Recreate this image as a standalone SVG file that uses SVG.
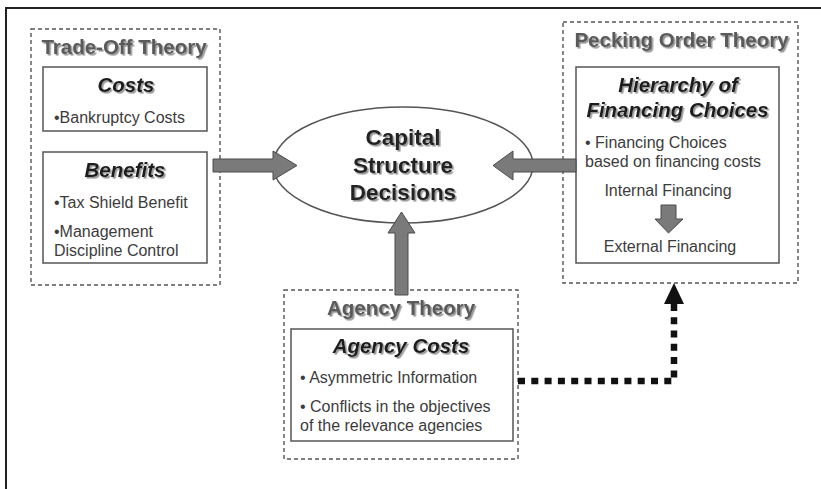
<svg xmlns="http://www.w3.org/2000/svg" width="821" height="489" viewBox="0 0 821 489">
<defs>
<filter id="sh" x="-10%" y="-30%" width="130%" height="170%">
<feDropShadow dx="1.6" dy="1.6" stdDeviation="0.7" flood-color="#8a8a8a" flood-opacity="0.9"/>
</filter>
</defs>
<style>
.frame{stroke:#222;stroke-width:2;fill:none}
.dbox{fill:none;stroke:#555;stroke-width:1.4;stroke-dasharray:4 3}
.box{fill:#fff;stroke:#555;stroke-width:1.5}
.title{font-family:"Liberation Sans",Arial,sans-serif;font-weight:bold;font-size:20.5px;fill:#5a5a5a;text-anchor:middle}
.head{font-family:"Liberation Sans",Arial,sans-serif;font-weight:bold;font-style:italic;font-size:20.5px;fill:#1e1e1e;text-anchor:middle}
.body{font-family:"Liberation Sans",Arial,sans-serif;font-size:16px;fill:#3c3c3c}
.mid{text-anchor:middle}
.center{font-family:"Liberation Sans",Arial,sans-serif;font-weight:bold;font-size:22.5px;fill:#222;text-anchor:middle}
.arrow{fill:#7a7a7a;stroke:#4a4a4a;stroke-width:1}
.dots{fill:none;stroke:#111;stroke-width:6.5;stroke-dasharray:7 6.3}
</style>
<rect x="0" y="0" width="821" height="489" fill="#fff"/>
<path class="frame" d="M6 489 V8 H821"/>

<g id="trade-off">
<rect class="dbox" x="31" y="29" width="189" height="256"/>
<text class="title" x="124" y="54" filter="url(#sh)">Trade-Off Theory</text>
<g id="costs">
<rect class="box" x="43" y="67" width="164" height="64"/>
<text class="head" x="126" y="92" filter="url(#sh)">Costs</text>
<text class="body" x="54" y="123">•Bankruptcy Costs</text>
</g>
<g id="benefits">
<rect class="box" x="43" y="152" width="164" height="111"/>
<text class="head" x="125" y="177" filter="url(#sh)">Benefits</text>
<text class="body" x="54" y="208">•Tax Shield Benefit</text>
<text class="body" x="54" y="237">•Management</text>
<text class="body" x="54" y="256">Discipline Control</text>
</g>
</g>

<g id="capital-structure">
<ellipse cx="403" cy="165" rx="130" ry="58" fill="#fff" stroke="#555" stroke-width="1.5"/>
<text class="center" x="403" y="145" filter="url(#sh)">Capital</text>
<text class="center" x="403" y="173" filter="url(#sh)">Structure</text>
<text class="center" x="403" y="200" filter="url(#sh)">Decisions</text>
</g>

<g id="pecking-order">
<rect class="dbox" x="563" y="22" width="235" height="261"/>
<text class="title" x="681.5" y="47" filter="url(#sh)">Pecking Order Theory</text>
<g id="hierarchy">
<rect class="box" x="576" y="67" width="203" height="196"/>
<text class="head" x="678" y="92" filter="url(#sh)">Hierarchy of</text>
<text class="head" x="677.5" y="117" filter="url(#sh)">Financing Choices</text>
<text class="body" x="585" y="148">• Financing Choices</text>
<text class="body" x="585" y="167">based on financing costs</text>
<text class="body mid" x="668" y="196">Internal Financing</text>
<polygon class="arrow" points="661,205 676,205 676,219 683,219 668.5,233 655,219 661,219"/>
<text class="body mid" x="670" y="252">External Financing</text>
</g>
</g>

<g id="agency">
<rect class="dbox" x="284" y="290" width="234" height="169"/>
<text class="title" x="401" y="315" filter="url(#sh)">Agency Theory</text>
<g id="agency-costs">
<rect class="box" x="291" y="329" width="222" height="112"/>
<text class="head" x="401" y="353" filter="url(#sh)">Agency Costs</text>
<text class="body" x="300" y="383">• Asymmetric Information</text>
<text class="body" x="300" y="412">• Conflicts in the objectives</text>
<text class="body" x="300" y="431">of the relevance agencies</text>
</g>
</g>

<g id="connectors">
<polygon class="arrow" points="213,159 273,159 273,151 297,165.5 273,180 273,172 213,172"/>
<polygon class="arrow" points="576,159 513,159 513,151 493,165.5 513,180 513,172 576,172"/>
<polygon class="arrow" points="395,295 395,233 388,233 401.5,212 415,233 408,233 408,295"/>
<path class="dots" d="M518 381 H674 V304"/>
<polygon points="664,304 684,304 674,283" fill="#111"/>
</g>
</svg>
